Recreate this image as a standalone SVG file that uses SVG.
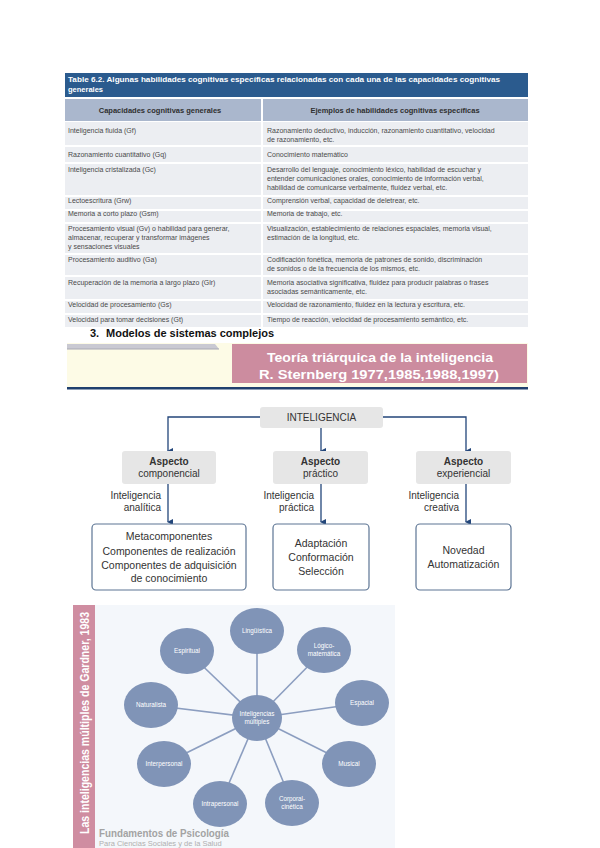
<svg xmlns="http://www.w3.org/2000/svg" width="600" height="848" viewBox="0 0 600 848">
<defs>
<marker id="arr" markerWidth="6" markerHeight="6" refX="3" refY="5" orient="auto-start-reverse" markerUnits="userSpaceOnUse" viewBox="0 0 6 6">
<path d="M0,0 L6,0 L3,6 z" fill="#23467a"/>
</marker>
<style>
.t{font-family:"Liberation Sans",Arial,sans-serif}
.cell{font-family:"Liberation Sans",Arial,sans-serif;font-size:7px;fill:#4a4a4a}
.row{fill:#eceef2}
.hd{font-family:"Liberation Sans",Arial,sans-serif;font-size:7.5px;font-weight:bold;fill:#2f2f2f}
.conn{stroke:#23467a;stroke-width:1.3;fill:none}
.box2{fill:#ffffff;stroke:#5d7594;stroke-width:1.2}
.tl{font-family:"Liberation Sans",Arial,sans-serif;font-size:10px;fill:#333}
.bl{font-family:"Liberation Sans",Arial,sans-serif;font-size:10.5px;fill:#333;text-anchor:middle}
.g{fill:#8094b7}
.gl{stroke:#8c9ec0;stroke-width:1.6}
.gt{font-family:"Liberation Sans",Arial,sans-serif;font-size:6.3px;fill:#ffffff;text-anchor:middle}
</style>
</defs>
<rect width="600" height="848" fill="#ffffff"/>

<g id="table">
<rect x="65" y="73" width="463" height="24" fill="#2b5b8e"/>
<text class="t" x="68" y="82" font-size="7.5" font-weight="bold" fill="#ffffff" textLength="432" lengthAdjust="spacingAndGlyphs">Table 6.2.  Algunas habilidades cognitivas específicas relacionadas con cada una de las capacidades cognitivas</text>
<text class="t" x="68" y="92" font-size="7.5" font-weight="bold" fill="#ffffff">generales</text>
<rect x="65" y="99" width="196" height="22" fill="#aab7cd"/>
<rect x="263" y="99" width="265" height="22" fill="#aab7cd"/>
<text class="hd" x="160" y="113" text-anchor="middle">Capacidades cognitivas generales</text>
<text class="hd" x="395" y="113" text-anchor="middle">Ejemplos de habilidades cognitivas específicas</text>

<g id="rows">
<rect class="row" x="65" y="122" width="196" height="23"/><rect class="row" x="263" y="122" width="265" height="23"/>
<rect class="row" x="65" y="147" width="196" height="15"/><rect class="row" x="263" y="147" width="265" height="15"/>
<rect class="row" x="65" y="164" width="196" height="31"/><rect class="row" x="263" y="164" width="265" height="31"/>
<rect class="row" x="65" y="197" width="196" height="12"/><rect class="row" x="263" y="197" width="265" height="12"/>
<rect class="row" x="65" y="211" width="196" height="11"/><rect class="row" x="263" y="211" width="265" height="11"/>
<rect class="row" x="65" y="224" width="196" height="29"/><rect class="row" x="263" y="224" width="265" height="29"/>
<rect class="row" x="65" y="255" width="196" height="20"/><rect class="row" x="263" y="255" width="265" height="20"/>
<rect class="row" x="65" y="277" width="196" height="22"/><rect class="row" x="263" y="277" width="265" height="22"/>
<rect class="row" x="65" y="301" width="196" height="12"/><rect class="row" x="263" y="301" width="265" height="12"/>
<rect class="row" x="65" y="315" width="196" height="12"/><rect class="row" x="263" y="315" width="265" height="12"/>
</g>
<g id="leftcol">
<text class="cell" x="68" y="133">Inteligencia fluida (Gf)</text>
<text class="cell" x="68" y="157">Razonamiento cuantitativo (Gq)</text>
<text class="cell" x="68" y="172">Inteligencia cristalizada (Gc)</text>
<text class="cell" x="68" y="203">Lectoescritura (Grw)</text>
<text class="cell" x="68" y="216">Memoria a corto plazo (Gsm)</text>
<text class="cell" x="68" y="231">Procesamiento visual (Gv) o habilidad para generar,</text>
<text class="cell" x="68" y="240">almacenar, recuperar y transformar imágenes</text>
<text class="cell" x="68" y="249">y sensaciones visuales</text>
<text class="cell" x="68" y="262">Procesamiento auditivo (Ga)</text>
<text class="cell" x="68" y="285">Recuperación de la memoria a largo plazo (Glr)</text>
<text class="cell" x="68" y="307">Velocidad de procesamiento (Gs)</text>
<text class="cell" x="68" y="322">Velocidad para tomar decisiones (Gt)</text>
</g>
<g id="rightcol">
<text class="cell" x="267" y="133">Razonamiento deductivo, inducción, razonamiento cuantitativo, velocidad</text>
<text class="cell" x="267" y="142">de razonamiento, etc.</text>
<text class="cell" x="267" y="157">Conocimiento matemático</text>
<text class="cell" x="267" y="172">Desarrollo del lenguaje, conocimiento léxico, habilidad de escuchar y</text>
<text class="cell" x="267" y="181">entender comunicaciones orales, conocimiento de información verbal,</text>
<text class="cell" x="267" y="190">habilidad de comunicarse verbalmente, fluidez verbal, etc.</text>
<text class="cell" x="267" y="203">Comprensión verbal, capacidad de deletrear, etc.</text>
<text class="cell" x="267" y="216">Memoria de trabajo, etc.</text>
<text class="cell" x="267" y="231">Visualización, establecimiento de relaciones espaciales, memoria visual,</text>
<text class="cell" x="267" y="240">estimación de la longitud, etc.</text>
<text class="cell" x="267" y="262">Codificación fonética, memoria de patrones de sonido, discriminación</text>
<text class="cell" x="267" y="271">de sonidos o de la frecuencia de los mismos, etc.</text>
<text class="cell" x="267" y="285">Memoria asociativa significativa, fluidez para producir palabras o frases</text>
<text class="cell" x="267" y="294">asociadas semánticamente, etc.</text>
<text class="cell" x="267" y="307">Velocidad de razonamiento, fluidez en la lectura y escritura, etc.</text>
<text class="cell" x="267" y="322">Tiempo de reacción, velocidad de procesamiento semántico, etc.</text>
</g>
</g>

<g id="heading">
<text class="t" x="90" y="337" font-size="11" font-weight="bold" fill="#111">3.</text>
<text class="t" x="106" y="337" font-size="11" font-weight="bold" fill="#111">Modelos de sistemas complejos</text>
</g>

<g id="banner">
<rect x="67" y="343" width="461" height="44" fill="#fdfbe6"/>
<path d="M67,344 L215,344 L219,349 L67,349 z" fill="#c9c9d2"/>
<line x1="67" y1="349" x2="219" y2="349" stroke="#a8a8b4" stroke-width="1"/>
<rect x="232" y="344" width="295" height="39" fill="#cc8c9f"/>
<text class="t" x="380" y="362" font-size="13.5" font-weight="bold" fill="#ffffff" text-anchor="middle" textLength="226" lengthAdjust="spacingAndGlyphs">Teoría triárquica de la inteligencia</text>
<text class="t" x="379" y="379" font-size="13.5" font-weight="bold" fill="#ffffff" text-anchor="middle" textLength="240" lengthAdjust="spacingAndGlyphs">R. Sternberg 1977,1985,1988,1997)</text>
<rect x="67" y="387" width="461" height="2.5" fill="#1f3f6e"/>
</g>

<g id="connectors">
<path class="conn" d="M260,417 H168 V451" marker-end="url(#arr)"/>
<path class="conn" d="M321,428 V451" marker-end="url(#arr)"/>
<path class="conn" d="M383,417 H466 V451" marker-end="url(#arr)"/>
<path class="conn" d="M168,483 V522" marker-end="url(#arr)"/>
<path class="conn" d="M321,483 V522" marker-end="url(#arr)"/>
<path class="conn" d="M466,483 V522" marker-end="url(#arr)"/>
</g>

<g id="n-inteligencia">
<rect x="260" y="407" width="123" height="21" rx="3" fill="#e6e6e6"/>
<text class="tl" x="321.5" y="421" text-anchor="middle" fill="#444">INTELIGENCIA</text>
</g>
<g id="n-componencial">
<rect x="122" y="451" width="94" height="33" rx="3" fill="#e6e6e6"/>
<text class="tl" x="169" y="465" text-anchor="middle" font-weight="bold" fill="#444">Aspecto</text>
<text class="tl" x="169" y="477" text-anchor="middle" fill="#444">componencial</text>
</g>
<g id="n-practico">
<rect x="273" y="451" width="95" height="33" rx="3" fill="#e6e6e6"/>
<text class="tl" x="320.5" y="465" text-anchor="middle" font-weight="bold" fill="#444">Aspecto</text>
<text class="tl" x="320.5" y="477" text-anchor="middle" fill="#444">práctico</text>
</g>
<g id="n-experiencial">
<rect x="416" y="451" width="95" height="33" rx="3" fill="#e6e6e6"/>
<text class="tl" x="463.5" y="465" text-anchor="middle" font-weight="bold" fill="#444">Aspecto</text>
<text class="tl" x="463.5" y="477" text-anchor="middle" fill="#444">experiencial</text>
</g>

<g id="labels">
<text class="tl" x="161" y="499" text-anchor="end">Inteligencia</text>
<text class="tl" x="161" y="511" text-anchor="end">analítica</text>
<text class="tl" x="314" y="499" text-anchor="end">Inteligencia</text>
<text class="tl" x="314" y="511" text-anchor="end">práctica</text>
<text class="tl" x="459" y="499" text-anchor="end">Inteligencia</text>
<text class="tl" x="459" y="511" text-anchor="end">creativa</text>
</g>

<g id="n-analitica">
<rect class="box2" x="92" y="524" width="154" height="66" rx="4"/>
<text class="bl" x="169" y="540">Metacomponentes</text>
<text class="bl" x="169" y="555">Componentes de realización</text>
<text class="bl" x="169" y="569">Componentes de adquisición</text>
<text class="bl" x="169" y="582">de conocimiento</text>
</g>
<g id="n-practica">
<rect class="box2" x="273" y="524" width="96" height="66" rx="4"/>
<text class="bl" x="321" y="547">Adaptación</text>
<text class="bl" x="321" y="561">Conformación</text>
<text class="bl" x="321" y="575">Selección</text>
</g>
<g id="n-creativa">
<rect class="box2" x="416" y="524" width="95" height="66" rx="4"/>
<text class="bl" x="463.5" y="554">Novedad</text>
<text class="bl" x="463.5" y="568">Automatización</text>
</g>

<g id="gardner">
<rect x="95" y="605" width="300" height="243" fill="#f4f7fb"/>
<rect x="73" y="605" width="22" height="243" fill="#cf8da1"/>
<text class="t" transform="translate(89,834) rotate(-90)" font-size="13" font-weight="bold" fill="#ffffff" textLength="222" lengthAdjust="spacingAndGlyphs">Las inteligencias múltiples de Gardner, 1983</text>
<text class="t" x="99" y="837" font-size="10.5" font-weight="bold" fill="#a3a3a3" textLength="130" lengthAdjust="spacingAndGlyphs">Fundamentos de Psicología</text>
<text class="t" x="99" y="846" font-size="7.5" fill="#b0b0b0">Para Ciencias Sociales y de la Salud</text>
</g>

<g id="gardner-connectors">
<line class="gl" x1="257" y1="718" x2="257" y2="631"/>
<line class="gl" x1="257" y1="718" x2="324" y2="650"/>
<line class="gl" x1="257" y1="718" x2="362" y2="703"/>
<line class="gl" x1="257" y1="718" x2="349" y2="764"/>
<line class="gl" x1="257" y1="718" x2="292" y2="803"/>
<line class="gl" x1="257" y1="718" x2="220" y2="804"/>
<line class="gl" x1="257" y1="718" x2="164" y2="764"/>
<line class="gl" x1="257" y1="718" x2="151" y2="705"/>
<line class="gl" x1="257" y1="718" x2="187" y2="651"/>
</g>

<g id="g-centro"><ellipse class="g" cx="257" cy="718" rx="25" ry="23"/><text class="gt" x="257" y="716">Inteligencias</text><text class="gt" x="257" y="724">múltiples</text></g>
<g id="g-linguistica"><ellipse class="g" cx="257" cy="631" rx="27" ry="23"/><text class="gt" x="257" y="633">Lingüística</text></g>
<g id="g-logico"><ellipse class="g" cx="324" cy="650" rx="27" ry="23"/><text class="gt" x="324" y="648">Lógico-</text><text class="gt" x="324" y="656">matemática</text></g>
<g id="g-espacial"><ellipse class="g" cx="362" cy="703" rx="27" ry="23"/><text class="gt" x="362" y="705">Espacial</text></g>
<g id="g-musical"><ellipse class="g" cx="349" cy="764" rx="27" ry="23"/><text class="gt" x="349" y="766">Musical</text></g>
<g id="g-corporal"><ellipse class="g" cx="292" cy="803" rx="27" ry="23"/><text class="gt" x="292" y="801">Corporal-</text><text class="gt" x="292" y="809">cinética</text></g>
<g id="g-intrapersonal"><ellipse class="g" cx="220" cy="804" rx="27" ry="23"/><text class="gt" x="220" y="806">Intrapersonal</text></g>
<g id="g-interpersonal"><ellipse class="g" cx="164" cy="764" rx="27" ry="23"/><text class="gt" x="164" y="766">Interpersonal</text></g>
<g id="g-naturalista"><ellipse class="g" cx="151" cy="705" rx="27" ry="23"/><text class="gt" x="151" y="707">Naturalista</text></g>
<g id="g-espiritual"><ellipse class="g" cx="187" cy="651" rx="27" ry="23"/><text class="gt" x="187" y="653">Espiritual</text></g>
</svg>
